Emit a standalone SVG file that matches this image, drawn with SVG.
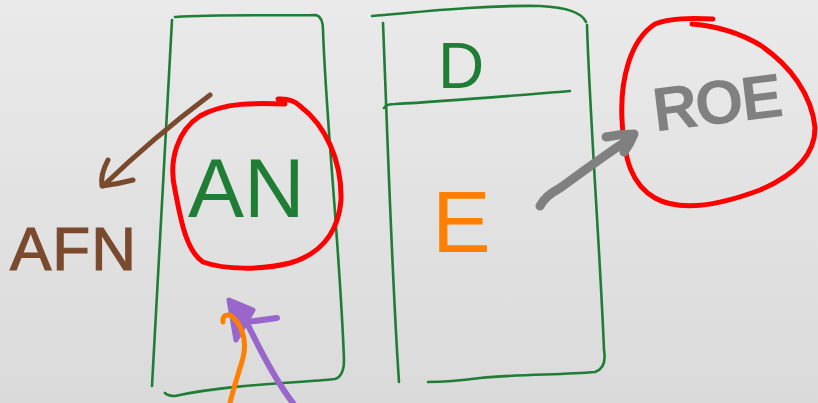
<svg xmlns="http://www.w3.org/2000/svg" width="818" height="403" viewBox="0 0 818 403">
<defs>
<linearGradient id="bg" x1="0" y1="0" x2="0" y2="1">
<stop offset="0" stop-color="#eaeaea"/>
<stop offset="1" stop-color="#dadada"/>
</linearGradient>
</defs>
<style>
.g{fill:none;stroke:#1f7d36;stroke-width:2.6;stroke-linecap:round;stroke-linejoin:round}
.red{fill:none;stroke:#ff0000;stroke-width:5;stroke-linecap:round;stroke-linejoin:round}
.t{font-family:"Liberation Sans","DejaVu Sans",sans-serif}
.c{fill:none;stroke-linecap:round;stroke-linejoin:round}
</style>
<rect width="818" height="403" fill="url(#bg)"/>
<g id="box-left">
<path class="g" d="M175,17 C220,14 270,16 316,15 Q323,17 323,30 C326,120 340,250 344,360 Q344,376 335,379 C300,383 230,384 175,396 Q168,396 165,393"/>
<path class="g" d="M172,20 C165,150 158,280 152,386"/>
</g>
<g id="node-an">
<path class="red" d="M278,99 Q292,98 300,106 C325,125 342,160 341,200 C338,235 318,255 290,263 C262,270 225,270 203,262 C185,250 180,215 175,190 C168,160 178,130 200,116 C225,102 255,103 285,104"/>
<text class="t" x="188" y="217" font-size="84" fill="#1f7d36">AN</text>
</g>
<g id="node-afn">
<text class="t" x="10" y="270" font-size="62" fill="#7a4a2e" stroke="#7a4a2e" stroke-width="1.2" letter-spacing="1">AFN</text>
</g>
<g id="box-right">
<path class="g" d="M372,16 C420,12 480,5 540,6 Q580,8 586,22"/>
<path class="g" d="M587,25 C590,120 600,250 604,350 Q607,368 595,372 C560,375 520,374 480,378 Q450,382 428,382"/>
<path class="g" d="M383,23 C388,150 392,280 399,382"/>
<path class="g" d="M384,108 Q386,104 395,104 C450,101 520,95 570,91"/>
<text class="t" x="438" y="88" font-size="64" fill="#1f7d36">D</text>
<text class="t" x="432" y="252" font-size="88" fill="#ff8000">E</text>
</g>
<g id="node-roe">
<path class="red" d="M713,19 C690,18 670,18 655,24 C630,40 620,80 622,120 C624,160 632,185 655,198 C680,212 720,205 760,190 C795,175 815,155 815,128 C812,95 790,65 760,45 C740,33 715,26 692,24"/>
<text class="t" x="652" y="124" font-size="62" font-weight="bold" fill="#808080" letter-spacing="-2" transform="rotate(-7 715 100)">ROE</text>
</g>
<g id="connectors">
<path class="c" stroke="#7a4a2e" stroke-width="5" d="M210,95 C170,125 130,160 103,186 M108,160 Q100,175 102,186 Q118,184 133,180"/>
<path class="c" stroke="#808080" stroke-width="9" d="M540,206 Q545,196 560,188 C585,170 605,155 628,140 M606,137 Q620,134 634,134 Q630,144 624,152"/>
<path class="c" stroke="#9966cc" stroke-width="6" d="M293,403 C275,380 260,350 247,323 M240,323 L277,318"/>
<path fill="#9966cc" stroke="#9966cc" stroke-width="5" stroke-linejoin="round" d="M229,300 L253,310 L236,340 Z"/>
<path class="c" stroke="#ff8000" stroke-width="5" d="M223,322 Q222,314 230,315 C240,322 248,338 243,358 C238,375 233,390 230,403"/>
</g>
</svg>
